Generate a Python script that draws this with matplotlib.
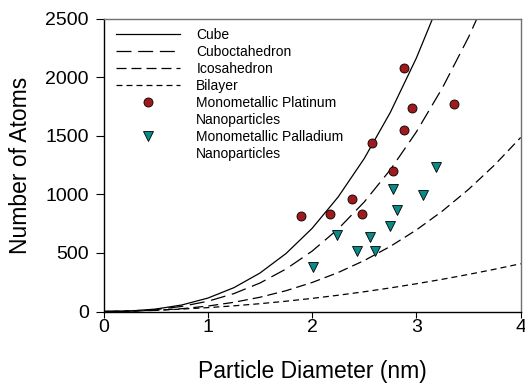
import matplotlib
matplotlib.use("Agg")
import matplotlib.pyplot as plt
from matplotlib.lines import Line2D

plt.rcParams['font.family'] = ['Liberation Sans', 'DejaVu Sans']
plt.rcParams['lines.scale_dashes'] = False

# Model curves
diam = [0.0, 0.25, 0.5, 0.75, 1.0, 1.25, 1.5, 1.75, 2.0, 2.25, 2.5, 2.75,
        3.0, 3.25, 3.5, 3.75, 4.0]
cube = [0, 4.2, 20.7, 55.5, 114.4, 203.4, 328.4, 495.3, 710, 978.5, 1306.6,
        1700.5, 2165.4, 2708, None, None, None]
cuboct = [0, 3.5, 16.6, 43.3, 87.3, 152.7, 243.2, 362.9, 515.6, 705.2, 935.6,
          1210.8, 1534.5, 1910.8, 2343.4, 2836, None]
icosa = [0, 2.2, 9.7, 23.9, 46.4, 78.6, 121.8, 177.7, 247.6, 333, 435.3,
         556.1, 696.6, 858.5, 1043.1, 1251.8, 1486.4]
bilayer = [0, 3.9, 10.75, 20.4, 33, 48.4, 66.75, 87.9, 112, 138.9, 168.75,
           201.4, 237, 275.4, 316.75, 360.9, 408]

# Measured nanoparticles
pt_d = [2.885, 2.957, 3.361, 2.885, 2.577, 2.780, 2.379, 2.170, 1.898, 2.475]
pt_n = [2082, 1738, 1775, 1554, 1443, 1198, 965, 834, 814, 834]
pd_d = [3.191, 2.780, 3.068, 2.818, 2.745, 2.235, 2.558, 2.430, 2.606, 2.010]
pd_n = [1235, 1045, 999, 871, 729, 652, 638, 516, 516, 382]

x_ticks = [0, 1, 2, 3, 4]
y_ticks = [0, 500, 1000, 1500, 2000, 2500]

def clean(xs, ys):
    pairs = [(a, b) for a, b in zip(xs, ys) if b is not None]
    return [p[0] for p in pairs], [p[1] for p in pairs]

fig = plt.figure(figsize=(5.25, 3.85), dpi=100)
ax = fig.add_axes([103.5 / 525, 1 - 311.5 / 385, 417.2 / 525, 292.7 / 385])

lw = 0.9
l1, = ax.plot(*clean(diam, cube), color='black', lw=lw, label='Cube')
l2, = ax.plot(*clean(diam, cuboct), color='black', lw=lw, dashes=(10.8, 4.8),
              label='Cuboctahedron')
l3, = ax.plot(*clean(diam, icosa), color='black', lw=lw, dashes=(7.2, 3.6),
              label='Icosahedron')
l4, = ax.plot(*clean(diam, bilayer), color='black', lw=lw, dashes=(4.3, 2.9),
              label='Bilayer')

ms = 6.5
ax.plot(pt_d, pt_n, linestyle='none', marker='o', markersize=ms,
        markerfacecolor='#9E1A1E', markeredgecolor='black', markeredgewidth=0.6,
        zorder=5)
ax.plot(pd_d, pd_n, linestyle='none', marker='v', markersize=ms,
        markerfacecolor='#0A8A88', markeredgecolor='black', markeredgewidth=0.6,
        zorder=5)

h_pt = Line2D([], [], linestyle='none', marker='o', markersize=ms,
              markerfacecolor='#9E1A1E', markeredgecolor='black', markeredgewidth=0.6)
h_pd = Line2D([], [], linestyle='none', marker='v', markersize=ms,
              markerfacecolor='#0A8A88', markeredgecolor='black', markeredgewidth=0.6)
h_blank = Line2D([], [], linestyle='none')

handles = [l1, l2, l3, l4, h_pt, h_blank, h_pd, h_blank]
labels = ['Cube', 'Cuboctahedron', 'Icosahedron', 'Bilayer',
          'Monometallic Platinum', 'Nanoparticles',
          'Monometallic Palladium', 'Nanoparticles']
leg = ax.legend(handles, labels, loc='upper left', bbox_to_anchor=(0.031, 0.970),
                frameon=False, fontsize=10, borderpad=0, borderaxespad=0,
                handlelength=4.6, handletextpad=1.15, labelspacing=0.22,
                numpoints=1)

ax.set_xlim(0, 4)
ax.set_ylim(0, 2500)
ax.set_xticks(x_ticks)
ax.set_yticks(y_ticks)
ax.tick_params(axis='x', direction='out', length=4, width=0.8, pad=1.5,
               labelsize=14)
ax.tick_params(axis='y', direction='out', length=5.5, width=0.8, pad=5,
               labelsize=14)

for s in ['left', 'bottom']:
    ax.spines[s].set_linewidth(1.0)
    ax.spines[s].set_color('black')
for s in ['top', 'right']:
    ax.spines[s].set_linewidth(1.0)
    ax.spines[s].set_color('#707070')

ax.set_xlabel('Particle Diameter (nm)', fontsize=16.5)
ax.set_ylabel('Number of Atoms', fontsize=16.5)
ax.xaxis.set_label_coords(0.5, -0.165)
ax.yaxis.set_label_coords(-0.172, 0.5)

fig.savefig('out.png', dpi=100)
